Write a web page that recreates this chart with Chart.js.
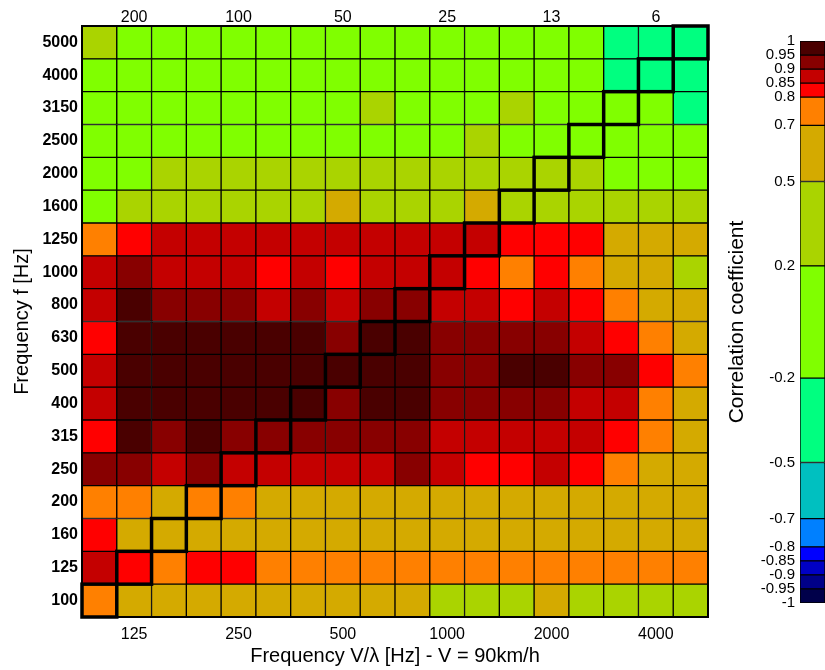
<!DOCTYPE html>
<html>
<head>
<meta charset="utf-8">
<script src="https://cdn.jsdelivr.net/npm/chart.js@4/dist/chart.umd.min.js"></script>
<style>
  html, body { margin: 0; padding: 0; background: #fff; overflow: hidden; width: 825px; height: 670px; }
  #main { position: absolute; left: 0; top: 0; }
  #bar { position: absolute; left: 720px; top: 0; }
</style>
</head>
<body>
<canvas id="main" width="720" height="670"></canvas>
<canvas id="bar" width="105" height="670"></canvas>
<script>
// Third-octave band centre frequencies (rows bottom→top, columns left→right)
const freqs = ['100','125','160','200','250','315','400','500','630','800','1000','1250','1600','2000','2500','3150','4000','5000'];

// Labelled columns on the bottom axis and matching wavelengths (mm) on the top axis
const bottomTicks = ['125','250','500','1000','2000','4000'];
const wavelengthTicks = ['200','100','50','25','13','6'];

// Colour levels of the correlation scale
const levelEdges = [-1,-0.95,-0.9,-0.85,-0.8,-0.7,-0.5,-0.2,0.2,0.5,0.7,0.8,0.85,0.9,0.95,1];
const levelColors = ['#00004a','#000088','#0000c4','#0000ff','#0080ff','#00c0c0','#00ff80',
                     '#80ff00','#aad400','#d4aa00','#ff8000','#ff0000','#c40000','#880000','#4a0000'];

// Correlation coefficient, one row per frequency f, columns are V/λ bands
const r5000 = [0.35,0.05,0.05,0.05,0.05,0.05,0.05,0.05,0.05,0.05,0.05,0.05,0.05,0.05,0.05,-0.3,-0.3,-0.3];
const r4000 = [0.05,0.05,0.05,0.05,0.05,0.05,0.05,0.05,0.05,0.05,0.05,0.05,0.05,0.05,0.05,-0.3,-0.3,-0.3];
const r3150 = [0.05,0.05,0.05,0.05,0.05,0.05,0.05,0.05,0.35,0.05,0.05,0.05,0.35,0.05,0.05,0.05,0.05,-0.3];
const r2500 = [0.05,0.05,0.05,0.05,0.05,0.05,0.05,0.05,0.05,0.05,0.05,0.35,0.05,0.05,0.05,0.05,0.05,0.05];
const r2000 = [0.05,0.05,0.35,0.35,0.35,0.35,0.35,0.35,0.35,0.35,0.35,0.35,0.35,0.35,0.35,0.05,0.05,0.05];
const r1600 = [0.05,0.35,0.35,0.35,0.35,0.35,0.35,0.6,0.35,0.35,0.35,0.6,0.35,0.35,0.35,0.35,0.35,0.35];
const r1250 = [0.75,0.82,0.87,0.87,0.87,0.87,0.87,0.87,0.87,0.87,0.87,0.87,0.82,0.82,0.82,0.6,0.6,0.6];
const r1000 = [0.87,0.92,0.87,0.87,0.87,0.82,0.87,0.82,0.87,0.87,0.87,0.82,0.75,0.82,0.75,0.6,0.6,0.35];
const r800  = [0.87,0.97,0.92,0.92,0.92,0.87,0.92,0.87,0.92,0.92,0.87,0.87,0.82,0.87,0.82,0.75,0.6,0.6];
const r630  = [0.82,0.97,0.97,0.97,0.97,0.97,0.97,0.92,0.97,0.97,0.92,0.92,0.92,0.92,0.87,0.82,0.75,0.6];
const r500  = [0.87,0.97,0.97,0.97,0.97,0.97,0.97,0.97,0.97,0.97,0.92,0.92,0.97,0.97,0.92,0.92,0.82,0.75];
const r400  = [0.87,0.97,0.97,0.97,0.97,0.97,0.97,0.92,0.97,0.97,0.92,0.92,0.92,0.92,0.87,0.87,0.75,0.6];
const r315  = [0.82,0.97,0.92,0.97,0.92,0.92,0.92,0.92,0.92,0.92,0.87,0.87,0.87,0.87,0.87,0.82,0.75,0.6];
const r250  = [0.92,0.92,0.87,0.92,0.87,0.87,0.87,0.87,0.87,0.92,0.87,0.82,0.82,0.87,0.82,0.75,0.6,0.6];
const r200  = [0.75,0.75,0.6,0.75,0.75,0.6,0.6,0.6,0.6,0.6,0.6,0.6,0.6,0.6,0.6,0.6,0.6,0.6];
const r160  = [0.82,0.6,0.6,0.6,0.6,0.6,0.6,0.6,0.6,0.6,0.6,0.6,0.6,0.6,0.6,0.6,0.6,0.6];
const r125  = [0.87,0.82,0.75,0.82,0.82,0.75,0.75,0.75,0.75,0.75,0.75,0.75,0.75,0.75,0.75,0.75,0.75,0.75];
const r100  = [0.75,0.6,0.6,0.6,0.6,0.6,0.6,0.6,0.6,0.6,0.35,0.35,0.35,0.6,0.35,0.35,0.35,0.35];

const rows = [r100,r125,r160,r200,r250,r315,r400,r500,r630,r800,r1000,r1250,r1600,r2000,r2500,r3150,r4000,r5000];

function colorFor(v) {
  for (let k = 0; k < levelColors.length - 1; k++) {
    if (v < levelEdges[k + 1]) return levelColors[k];
  }
  return levelColors[levelColors.length - 1];
}

Chart.defaults.font.family = "'Liberation Sans', Arial, Helvetica, sans-serif";
Chart.defaults.color = '#000';

// Thick outline around the cells where f equals V/λ, plus the plot frame
const diagonalOutline = {
  id: 'diagonalOutline',
  afterDatasetsDraw(chart) {
    const ctx = chart.ctx;
    ctx.save();
    ctx.strokeStyle = '#000';
    const a = chart.chartArea;
    ctx.lineWidth = 2;
    ctx.strokeRect(a.left, a.top, a.right - a.left, a.bottom - a.top);
    ctx.lineWidth = 3.5;
    for (let i = 0; i < freqs.length; i++) {
      const bar = chart.getDatasetMeta(i).data[i];
      const p = bar.getProps(['x', 'y', 'base', 'width'], true);
      ctx.strokeRect(p.x - p.width / 2, p.y, p.width, p.base - p.y);
    }
    ctx.restore();
  }
};

new Chart(document.getElementById('main'), {
  type: 'bar',
  data: {
    labels: freqs,
    datasets: rows.map((row, r) => ({
      label: freqs[r],
      data: row.map(() => 1),
      backgroundColor: row.map(colorFor)
    }))
  },
  options: {
    responsive: false,
    animation: false,
    layout: { padding: { left: 0, right: 12, top: 0, bottom: 0 } },
    plugins: { legend: { display: false }, tooltip: { enabled: false } },
    datasets: {
      bar: { barPercentage: 1, categoryPercentage: 1, borderWidth: 1, borderColor: '#000', borderSkipped: false }
    },
    scales: {
      x: {
        type: 'category', position: 'bottom', stacked: true, offset: true,
        grid: { display: false, drawTicks: false }, border: { display: false },
        ticks: {
          autoSkip: false, maxRotation: 0, minRotation: 0, padding: 8,
          font: { size: 16 }, color: '#000',
          callback: (v, i) => bottomTicks.includes(freqs[i]) ? freqs[i] : ''
        },
        title: {
          display: true, text: 'Frequency V/λ [Hz] - V = 90km/h',
          font: { size: 20 }, color: '#000', padding: { top: 0, bottom: 2 }
        },
        afterFit: s => { s.height = 53; }
      },
      x2: {
        type: 'category', position: 'top', labels: freqs, offset: true,
        grid: { display: false, drawTicks: false }, border: { display: false },
        ticks: {
          autoSkip: false, maxRotation: 0, minRotation: 0, padding: -1,
          font: { size: 16 }, color: '#000',
          callback: (v, i) => {
            const k = bottomTicks.indexOf(freqs[i]);
            return k >= 0 ? wavelengthTicks[k] : '';
          }
        },
        afterFit: s => { s.height = 26; }
      },
      y: {
        type: 'linear', stacked: true, min: 0, max: freqs.length,
        grid: { display: false, drawTicks: false }, border: { display: false },
        afterBuildTicks: s => { s.ticks = freqs.map((f, i) => ({ value: i + 0.5 })); },
        ticks: {
          autoSkip: false, padding: 4, font: { size: 16, weight: 'bold' }, color: '#000',
          callback: v => freqs[Math.floor(v)]
        },
        title: {
          display: true, text: 'Frequency f [Hz]',
          font: { size: 20 }, color: '#000', padding: { top: 10, bottom: 0 }
        },
        afterFit: s => { s.width = 82; }
      }
    }
  },
  plugins: [diagonalOutline]
});

// Colour bar
new Chart(document.getElementById('bar'), {
  type: 'bar',
  data: {
    labels: ['r'],
    datasets: levelColors.map((c, k) => ({
      data: [[levelEdges[k], levelEdges[k + 1]]],
      backgroundColor: c
    }))
  },
  options: {
    responsive: false,
    animation: false,
    layout: { padding: { top: 41, bottom: 67, left: 0, right: 0 } },
    plugins: { legend: { display: false }, tooltip: { enabled: false } },
    datasets: {
      bar: { grouped: false, barPercentage: 1, categoryPercentage: 1, borderWidth: 1, borderColor: '#000', borderSkipped: false }
    },
    scales: {
      x: { display: false, stacked: true },
      y: {
        min: -1, max: 1,
        grid: { display: false, drawTicks: false }, border: { display: false },
        afterBuildTicks: s => { s.ticks = levelEdges.map(v => ({ value: v })); },
        ticks: { autoSkip: false, padding: 5, font: { size: 15 }, color: '#000', callback: v => String(v) },
        title: {
          display: true, text: 'Correlation coefficient',
          font: { size: 21 }, color: '#000', padding: { top: 5, bottom: 0 }
        },
        afterFit: s => { s.width = 80; }
      }
    }
  }
});
</script>
</body>
</html>
